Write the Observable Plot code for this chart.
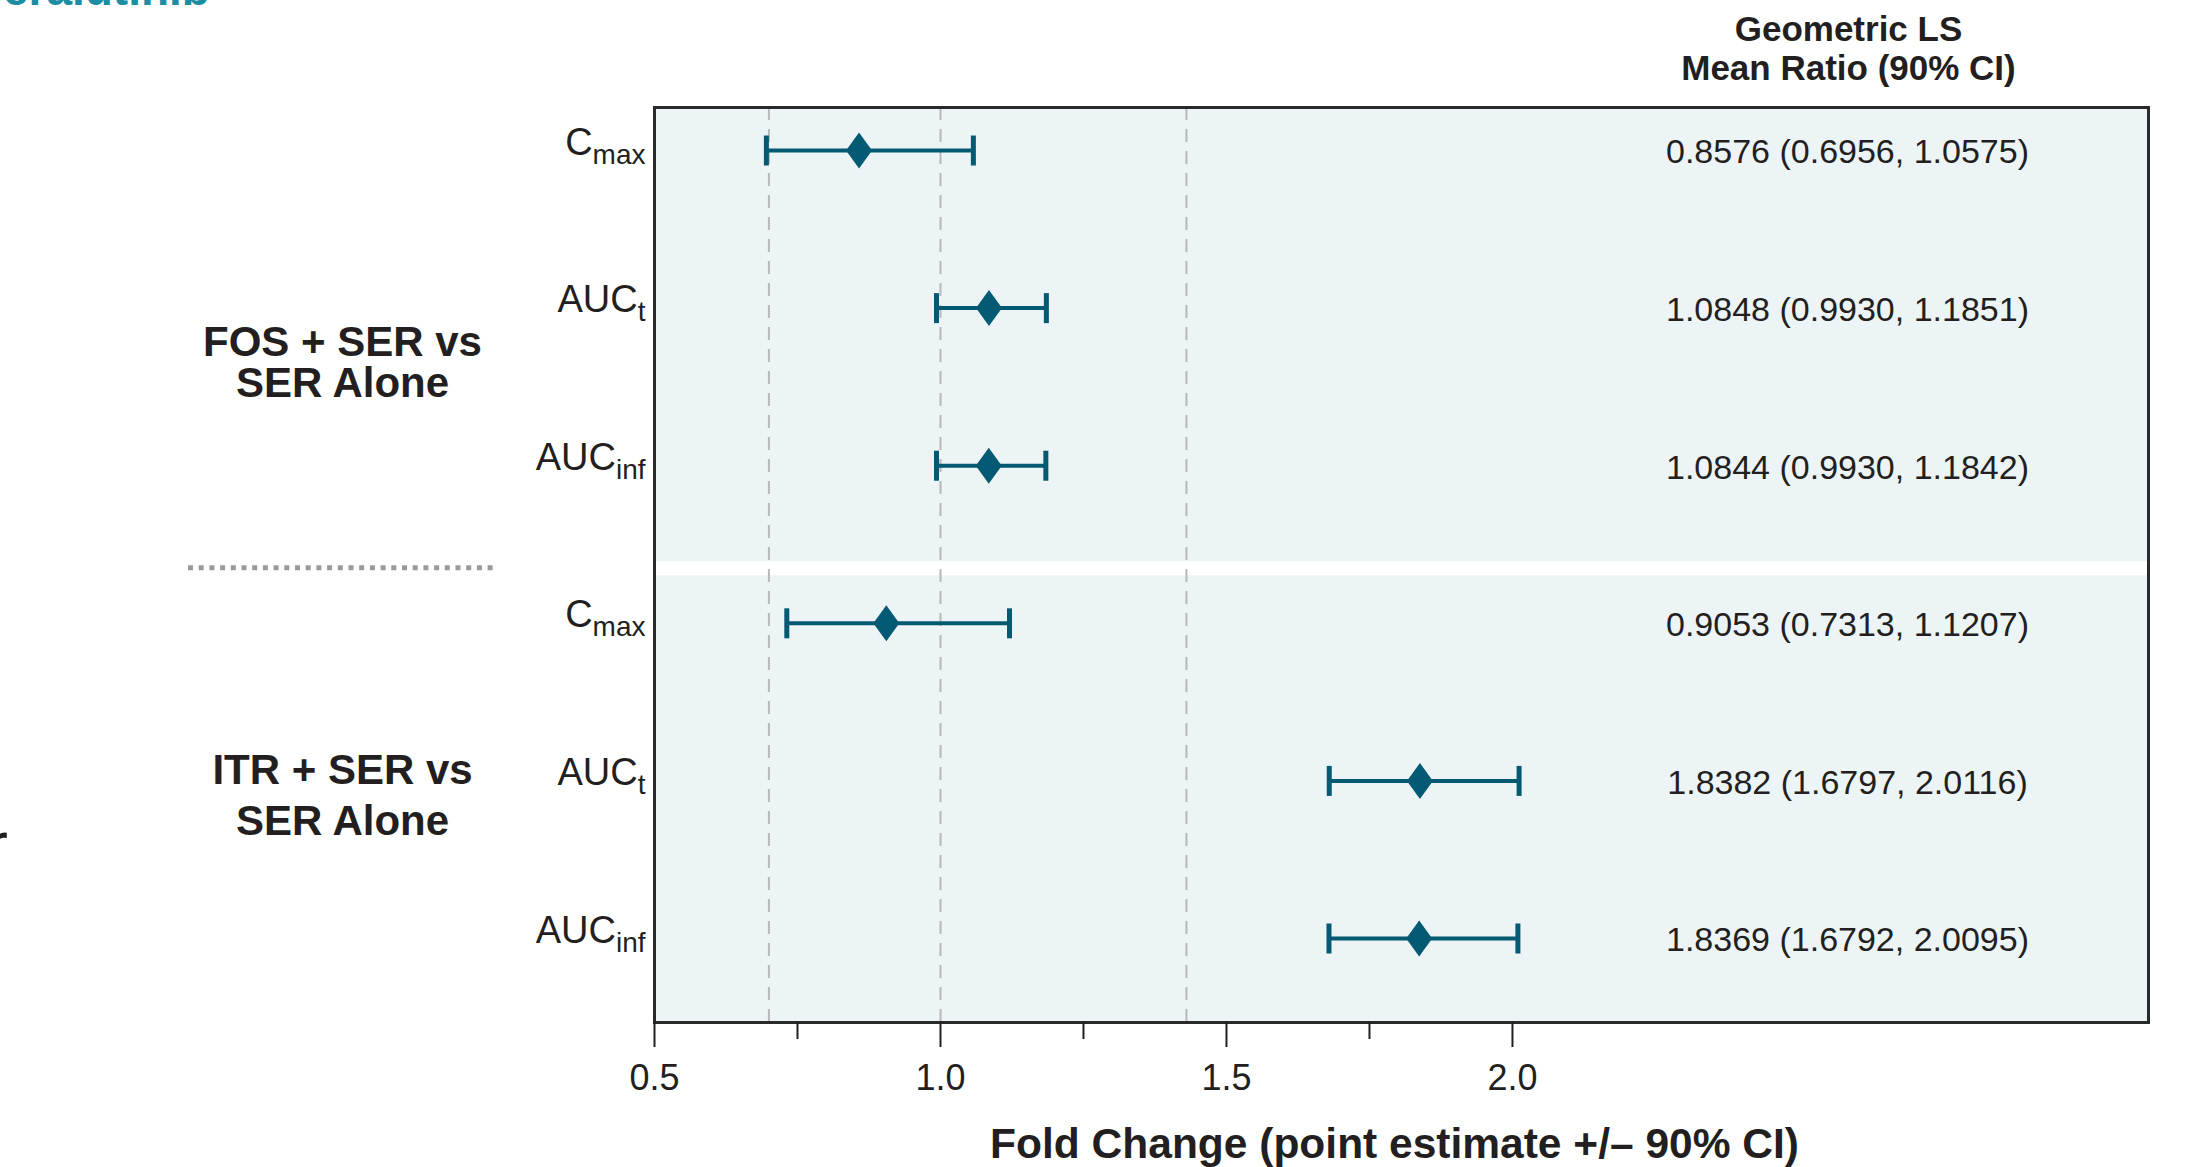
<!DOCTYPE html>
<html><head><meta charset="utf-8">
<script src="https://cdn.jsdelivr.net/npm/d3@7"></script>
<script src="https://cdn.jsdelivr.net/npm/@observablehq/plot@0.6"></script>
<style>
html,body{margin:0;padding:0;background:#fff;overflow:hidden}
#chart{position:relative;width:2196px;height:1167px}
svg{display:block}
</style></head><body><div id="chart"></div>
<script>
// ---- data ----
const comparisons = ["FOS + SER vs\nSER Alone", "ITR + SER vs\nSER Alone"];
const comparisonOfRow = [0, 0, 0, 1, 1, 1];
const paramMain = ["C", "AUC", "AUC", "C", "AUC", "AUC"];
const paramSub = ["max", "t", "inf", "max", "t", "inf"];
const estimate = [0.8576, 1.0848, 1.0844, 0.9053, 1.8382, 1.8369];
const lower = [0.6956, 0.9930, 0.9930, 0.7313, 1.6797, 1.6792];
const upper = [1.0575, 1.1851, 1.1842, 1.1207, 2.0116, 2.0095];
const majorTicks = [0.5, 1.0, 1.5, 2.0];
const minorTicks = [0.75, 1.25, 1.75];
const referenceLines = [0.7, 1.0, 1.43];
const columnHeader = "Geometric LS\nMean Ratio (90% CI)";
const xTitle = "Fold Change (point estimate +/\u2013 90% CI)";

const rows = estimate.map((e, i) => ({
  i, main: paramMain[i], sub: paramSub[i], est: e, lo: lower[i], hi: upper[i], g: comparisonOfRow[i]
}));
const groups = comparisons.map((label, g) => ({
  label, yc: d3.mean(rows.filter(r => r.g === g), r => r.i)
}));
const separatorAt = 2.65;

const fmt = v => v.toFixed(4);
const teal = "#045a73";
const ink = "#231f20";
const labelInk = "#231f21"; // used to find the row-label group
const font = "'Liberation Sans', Arial, Helvetica, sans-serif";
const cap = {draw(ctx) { ctx.rect(-2.5, -15, 5, 30); }};
const diamond = {draw(ctx) { ctx.moveTo(0, -18); ctx.lineTo(13, 0); ctx.lineTo(0, 18); ctx.lineTo(-13, 0); ctx.closePath(); }};

const groupMarks = [
  {dy: 55.5, lineHeight: 0.96},
  {dy: 12.5, lineHeight: 1.2}
].map((o, g) => Plot.text([groups[g]], {
  y: "yc", text: "label", frameAnchor: "left", dx: -312, dy: o.dy,
  textAnchor: "middle", lineAnchor: "middle", lineHeight: o.lineHeight,
  fontSize: 42, fontWeight: "bold", fill: ink
}));

const plot = Plot.plot({
  width: 2196, height: 1167,
  marginLeft: 654, marginRight: 48, marginTop: 107, marginBottom: 145,
  style: {fontFamily: font, background: "transparent", overflow: "visible"},
  x: {domain: [0.5, 3.112]},
  y: {domain: [-0.273, 5.533], reverse: true, axis: null},
  marks: [
    Plot.frame({fill: "#ecf4f6", stroke: null}),
    Plot.ruleY([separatorAt], {stroke: "white", strokeWidth: 14}),
    Plot.ruleX(referenceLines, {stroke: "#b8b8b8", strokeWidth: 2, strokeDasharray: "13,9"}),
    Plot.ruleY(rows, {y: "i", x1: "lo", x2: "hi", stroke: teal, strokeWidth: 4}),
    Plot.dot(rows, {x: "lo", y: "i", symbol: cap, fill: teal, stroke: null}),
    Plot.dot(rows, {x: "hi", y: "i", symbol: cap, fill: teal, stroke: null}),
    Plot.dot(rows, {x: "est", y: "i", symbol: diamond, fill: teal, stroke: null}),
    Plot.frame({stroke: "#2a2a2a", strokeWidth: 3}),
    Plot.axisX(majorTicks, {tickSize: 25, tickPadding: 17, fontSize: 36, tickFormat: d => d.toFixed(1), color: ink, strokeWidth: 2, label: null}),
    Plot.axisX(minorTicks, {tickSize: 17, tickFormat: () => "", color: ink, strokeWidth: 2, label: null}),
    Plot.text(rows, {y: "i", text: "main", frameAnchor: "left", dx: -9, dy: -8, textAnchor: "end", lineAnchor: "middle", fontSize: 38, fill: labelInk}),
    Plot.text(rows, {y: "i", text: d => `${fmt(d.est)} (${fmt(d.lo)}, ${fmt(d.hi)})`, frameAnchor: "right", dx: -301, dy: 2, textAnchor: "middle", lineAnchor: "middle", fontSize: 34, fill: ink}),
    Plot.text([columnHeader], {text: d => d, frameAnchor: "top-right", dx: -300, dy: -59.5, textAnchor: "middle", lineAnchor: "middle", lineHeight: 1.1, fontSize: 35, fontWeight: "bold", fill: ink}),
    Plot.text([xTitle], {text: d => d, frameAnchor: "bottom", dx: -7, dy: 122, textAnchor: "middle", lineAnchor: "middle", fontSize: 42.5, fontWeight: "bold", fill: ink}),
    ...groupMarks
  ]
});

document.getElementById("chart").appendChild(plot);
const svg = d3.select(plot);

// subscripts on row labels
svg.selectAll("text").filter(function() {
  const g = this.closest("g");
  return g && g.getAttribute("fill") === labelInk;
}).each(function(_, k) {
  const t = d3.select(this);
  const r = rows[k];
  t.text(null);
  t.append("tspan").text(r.main);
  t.append("tspan").attr("dy", 9).attr("font-size", 28).text(r.sub);
});

// dotted separator between comparison groups (left margin)
const ySep = plot.scale("y").apply(separatorAt);
svg.append("line").attr("x1", 188).attr("x2", 495).attr("y1", ySep).attr("y2", ySep)
  .attr("stroke", "#9a9a9a").attr("stroke-width", 5).attr("stroke-dasharray", "5,5.7");

// cropped fragments at the edges of the source image
svg.append("text").attr("x", 63).attr("y", 5).attr("font-size", 46).attr("font-weight", "bold")
  .attr("fill", "#1d8da3").attr("font-family", font).text("of Seralutinib");
svg.append("text").attr("x", -3).attr("y", 867).attr("font-size", 65)
  .attr("fill", ink).attr("font-family", font).text("r");
</script></body></html>
